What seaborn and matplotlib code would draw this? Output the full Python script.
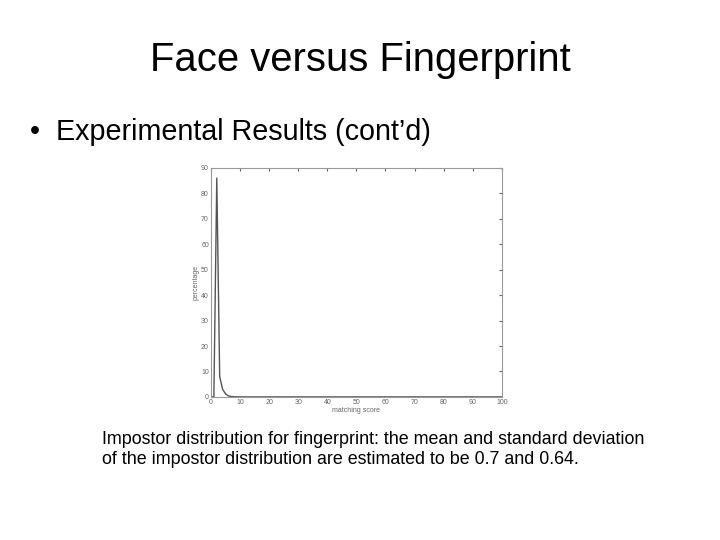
import pandas as pd
import seaborn as sns
import matplotlib.pyplot as plt

sns.set_style('white')
plt.rcParams['font.family'] = ['Liberation Sans', 'DejaVu Sans']
plt.rcParams['text.color'] = 'black'

# matching score vs percentage (impostor distribution)
score = [0, 1, 2, 3, 4, 5, 6, 7, 8, 9, 10, 20, 30, 40, 50, 60, 70, 80, 90, 100]
percentage = [0, 0, 86, 8, 3, 1.2, 0.4, 0.15, 0.05, 0.02, 0, 0, 0, 0, 0, 0, 0, 0, 0, 0]
data = pd.DataFrame({'matching score': score, 'percentage': percentage})

fig = plt.figure(figsize=(7.2, 5.4), dpi=100)
fig.text(0.5, 0.888, 'Face versus Fingerprint', ha='center', va='center', fontsize=28.8)
fig.text(0.042, 0.755, '\u2022  Experimental Results (cont\u2019d)', ha='left', va='center', fontsize=20.7)
fig.text(0.142, 0.167, 'Impostor distribution for fingerprint: the mean and standard deviation\n'
         'of the impostor distribution are estimated to be 0.7 and 0.64.',
         ha='left', va='center', fontsize=12.9, linespacing=1.25)

ax = fig.add_axes([0.293, 0.265, 0.404, 0.424])
sns.lineplot(x='matching score', y='percentage', data=data, ax=ax, color='#555555', linewidth=1)
ax.set_xlim(0, 100)
ax.set_ylim(0, 90)
ax.set_xticks(range(0, 101, 10))
ax.set_yticks(range(0, 91, 10))
ax.tick_params(direction='in', length=2, labelsize=5, colors='#666666', top=True, right=True,
               labeltop=False, labelright=False, pad=1.5)
ax.set_xlabel('matching score', fontsize=5, color='#666666', labelpad=1)
ax.set_ylabel('percentage', fontsize=5, color='#666666', labelpad=1)
for s in ax.spines.values():
    s.set_color('#999999')
    s.set_linewidth(0.8)

plt.savefig('out.png', dpi=100)
